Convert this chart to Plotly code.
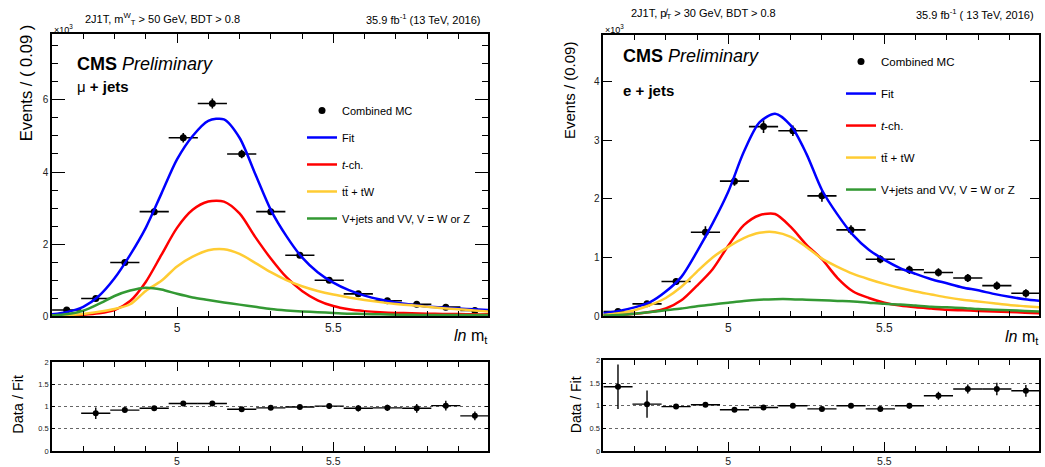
import plotly.graph_objects as go

FONT = "Liberation Sans"
W, H = 1045, 467

# ---------------- data ----------------
bin_centers = [4.647, 4.740, 4.833, 4.927, 5.020, 5.113, 5.207, 5.300,
               5.393, 5.487, 5.580, 5.673, 5.767, 5.860, 5.953]
bin_half_width = [0.0467] * 15

curve_x = [4.60, 4.65, 4.70, 4.75, 4.80, 4.85, 4.90, 4.95, 5.00, 5.05,
           5.10, 5.15, 5.20, 5.25, 5.30, 5.35, 5.40, 5.45, 5.50, 5.55,
           5.60, 5.65, 5.70, 5.75, 5.80, 5.85, 5.90, 5.95, 6.00]

# mu + jets (values in units of 10^3 events)
mu_data = [0.17, 0.49, 1.49, 2.90, 4.95, 5.90, 4.50, 2.90, 1.69, 0.995,
           0.62, 0.43, 0.33, 0.25, 0.16]
mu_err = [0.04, 0.05, 0.08, 0.10, 0.13, 0.14, 0.12, 0.09, 0.07, 0.05,
          0.04, 0.03, 0.03, 0.03, 0.03]
mu_fit = [0.05, 0.12, 0.26, 0.56, 1.05, 1.70, 2.45, 3.40, 4.35, 5.00,
          5.42, 5.46, 4.95, 3.95, 2.95, 2.22, 1.63, 1.22, 0.93, 0.72,
          0.57, 0.46, 0.38, 0.32, 0.27, 0.24, 0.21, 0.19, 0.17]
mu_tch = [0.01, 0.02, 0.04, 0.08, 0.17, 0.42, 0.95, 1.70, 2.45, 2.95,
          3.18, 3.18, 2.85, 2.20, 1.60, 1.08, 0.70, 0.44, 0.28, 0.19,
          0.14, 0.11, 0.09, 0.08, 0.07, 0.06, 0.06, 0.05, 0.05]
mu_tt = [0.01, 0.03, 0.06, 0.12, 0.20, 0.33, 0.70, 0.98, 1.38, 1.65,
         1.83, 1.86, 1.73, 1.48, 1.22, 1.00, 0.83, 0.70, 0.60, 0.52,
         0.45, 0.39, 0.34, 0.30, 0.26, 0.22, 0.19, 0.16, 0.13]
mu_vjets = [0.02, 0.06, 0.15, 0.34, 0.56, 0.71, 0.79, 0.74, 0.62, 0.52,
            0.45, 0.38, 0.32, 0.26, 0.20, 0.16, 0.13, 0.11, 0.09, 0.07,
            0.06, 0.05, 0.04, 0.04, 0.03, 0.03, 0.03, 0.03, 0.03]
mu_ratio = [None, 0.85, 0.92, 0.96, 1.07, 1.07, 0.94, 0.97, 0.99, 1.01,
            0.96, 0.97, 0.96, 1.02, 0.79]
mu_ratio_err = [None, 0.13, 0.05, 0.03, 0.02, 0.02, 0.02, 0.02, 0.03, 0.06,
                0.07, 0.07, 0.10, 0.11, 0.10]

# e + jets
e_data = [0.08, 0.21, 0.59, 1.43, 2.30, 3.23, 3.16, 2.05, 1.47, 0.97,
          0.79, 0.745, 0.65, 0.52, 0.39]
e_err = [0.04, 0.05, 0.06, 0.10, 0.08, 0.11, 0.09, 0.10, 0.08, 0.07,
         0.07, 0.07, 0.07, 0.07, 0.07]
e_fit = [0.05, 0.09, 0.15, 0.24, 0.42, 0.67, 1.10, 1.58, 2.12, 2.80,
         3.30, 3.45, 3.25, 2.77, 2.15, 1.73, 1.38, 1.13, 0.96, 0.82,
         0.72, 0.63, 0.56, 0.49, 0.44, 0.38, 0.33, 0.29, 0.26]
e_tch = [0.01, 0.02, 0.04, 0.07, 0.13, 0.27, 0.52, 0.80, 1.20, 1.55,
         1.72, 1.74, 1.52, 1.22, 0.97, 0.65, 0.42, 0.31, 0.23, 0.18,
         0.15, 0.13, 0.11, 0.10, 0.09, 0.08, 0.07, 0.06, 0.05]
e_tt = [0.02, 0.05, 0.10, 0.19, 0.31, 0.50, 0.76, 1.00, 1.18, 1.33,
        1.42, 1.43, 1.35, 1.18, 0.98, 0.84, 0.72, 0.63, 0.55, 0.48,
        0.42, 0.37, 0.32, 0.28, 0.25, 0.22, 0.19, 0.17, 0.15]
e_vjets = [0.01, 0.02, 0.04, 0.07, 0.10, 0.13, 0.17, 0.20, 0.23, 0.26,
           0.28, 0.29, 0.29, 0.28, 0.27, 0.26, 0.25, 0.23, 0.21, 0.20,
           0.18, 0.16, 0.15, 0.14, 0.12, 0.11, 0.10, 0.09, 0.08]
e_ratio = [1.42, 1.035, 0.98, 1.02, 0.91, 0.96, 1.00, 0.93, 1.00, 0.93,
           1.00, 1.22, 1.37, 1.37, 1.33]
e_ratio_err = [0.49, 0.30, 0.05, 0.05, 0.03, 0.03, 0.03, 0.03, 0.03, 0.05,
               0.06, 0.09, 0.10, 0.14, 0.13]

curve_names = ["Fit", "<i>t</i>-ch.", "tt\u0304 + tW", "V+jets and VV, V = W or Z"]
curve_colors = ["#0000ff", "#ff0000", "#ffcc33", "#339933"]

# ---------------- figure ----------------
fig = go.Figure()


def px(v):
    return v / W


def py(v):
    return 1 - v / H


def add_panel(xa, ya, xr, yr, data, err, curves, ratio, rerr, legend):
    fig.add_trace(go.Scatter(
        x=bin_centers, y=data, mode="markers", name="Combined MC",
        xaxis=xa, yaxis=ya, legend=legend, legendgroup=legend + "d",
        marker=dict(color="black", size=7),
        error_x=dict(type="data", array=bin_half_width, width=0,
                     color="black", thickness=1.6),
        error_y=dict(type="data", array=err, width=0, color="black",
                     thickness=1.6)))
    for name, col, yv in zip(curve_names, curve_colors, curves):
        fig.add_trace(go.Scatter(
            x=curve_x, y=yv, mode="lines", name=name, xaxis=xa, yaxis=ya,
            legend=legend, legendgroup=legend + name,
            line=dict(color=col, width=2.5, shape="spline", smoothing=0.8)))
    fig.add_trace(go.Scatter(
        x=bin_centers, y=ratio, mode="markers", showlegend=False,
        xaxis=xr, yaxis=yr, marker=dict(color="black", size=6),
        error_x=dict(type="data", array=bin_half_width, width=0,
                     color="black", thickness=1.4),
        error_y=dict(type="data", array=rerr, width=0, color="black",
                     thickness=1.4)))


add_panel("x", "y", "x2", "y2", mu_data, mu_err,
          [mu_fit, mu_tch, mu_tt, mu_vjets], mu_ratio, mu_ratio_err, "legend")
add_panel("x3", "y3", "x4", "y4", e_data, e_err,
          [e_fit, e_tch, e_tt, e_vjets], e_ratio, e_ratio_err, "legend2")

minor_x = [4.7, 4.8, 4.9, 5.1, 5.2, 5.3, 5.4, 5.6, 5.7, 5.8, 5.9]


def xaxis(dom, anchor, size):
    return dict(domain=dom, anchor=anchor, range=[4.6, 5.995],
                showline=True, linecolor="black", linewidth=1.5,
                mirror="ticks", ticks="inside", ticklen=9, tickwidth=1.2,
                tickcolor="black", tickmode="array", tickvals=[5, 5.5],
                ticktext=["5", "5.5"], showgrid=False, zeroline=False,
                tickfont=dict(size=size, color="#222"),
                minor=dict(tickmode="array", tickvals=minor_x, ticklen=5,
                           ticks="inside", tickcolor="black", tickwidth=1))


left_dom = [px(52), px(488)]
right_dom = [px(603.3), px(1039)]
main_y = [py(319), py(31)]

fig.update_layout(
    width=W, height=H, margin=dict(l=0, r=0, t=0, b=0),
    paper_bgcolor="white", plot_bgcolor="white",
    font=dict(family=FONT, color="black"),
    xaxis=xaxis(left_dom, "y", 12),
    xaxis2=xaxis(left_dom, "y2", 10.5),
    xaxis3=xaxis(right_dom, "y3", 12),
    xaxis4=xaxis(right_dom, "y4", 10.5),
    yaxis=dict(domain=main_y, anchor="x", range=[0, 7.82],
               showline=True, linecolor="black", linewidth=1.5,
               mirror="ticks", ticks="inside", ticklen=13, tickwidth=1.2,
               tickcolor="black", tickmode="array", tickvals=[0, 2, 4, 6],
               showgrid=False, zeroline=False,
               tickfont=dict(size=10, color="#222"),
               minor=dict(dtick=0.5, tick0=0, ticklen=6, ticks="inside",
                          tickcolor="black", tickwidth=1)),
    yaxis3=dict(domain=[py(319), py(31.7)], anchor="x3", range=[0, 4.79],
                showline=True, linecolor="black", linewidth=1.5,
                mirror="ticks", ticks="inside", ticklen=9, tickwidth=1.2,
                tickcolor="black", tickmode="array", tickvals=[0, 1, 2, 3, 4],
                showgrid=False, zeroline=False,
                tickfont=dict(size=10, color="#222")),
    yaxis2=dict(domain=[py(456.7), py(366)], anchor="x2", range=[0, 2],
                showline=True, linecolor="black", linewidth=1.5,
                mirror="ticks", ticks="inside", ticklen=3, tickcolor="black",
                tickmode="array", tickvals=[0, 0.5, 1, 1.5, 2],
                showgrid=True, gridcolor="#666", griddash="dot", gridwidth=1,
                zeroline=False, tickfont=dict(size=7.5, color="#222")),
    yaxis4=dict(domain=[py(456.7), py(364.3)], anchor="x4", range=[0, 2],
                showline=True, linecolor="black", linewidth=1.5,
                mirror="ticks", ticks="inside", ticklen=3, tickcolor="black",
                tickmode="array", tickvals=[0, 0.5, 1, 1.5, 2],
                showgrid=True, gridcolor="#666", griddash="dot", gridwidth=1,
                zeroline=False, tickfont=dict(size=7.5, color="#222")),
    legend=dict(x=px(302), y=py(94), xanchor="left", yanchor="top",
                bgcolor="rgba(0,0,0,0)", font=dict(size=11),
                tracegroupgap=8, itemwidth=30),
    legend2=dict(x=px(841), y=py(44), xanchor="left", yanchor="top",
                 bgcolor="rgba(0,0,0,0)", font=dict(size=11.5),
                 tracegroupgap=13, itemwidth=30),
)

ann = []


def text(x, y, s, size, xanchor="center", angle=0, color="black"):
    ann.append(dict(x=px(x), y=py(y), xref="paper", yref="paper", text=s,
                    showarrow=False, xanchor=xanchor, yanchor="middle",
                    textangle=angle, font=dict(size=size, color=color)))


# left panel texts
text(162, 15, "2J1T, m<sup>W</sup><sub>T</sub> > 50 GeV, BDT > 0.8", 11)
text(483, 15, "35.9 fb<sup>-1</sup> (13 TeV, 2016)", 11, "right")
text(52, 26, "\u00d710<sup>3</sup>", 9, "left")
text(75, 61, "<b>CMS</b> <i>Preliminary</i>", 18, "left")
text(75, 84, "\u03bc <b>+ jets</b>", 15, "left")
text(26, 81, "Events / ( 0.09 )", 16.5, angle=-90)
text(18.5, 409, "Data / Fit", 14.5, angle=-90)
text(490, 340, "<i>ln</i> m<sub>t</sub>", 16, "right")

# right panel texts
text(703, 10.5, "2J1T, p\u0338<sub>T</sub> > 30 GeV, BDT > 0.8", 11)
text(1036, 10.5, "35.9 fb<sup>-1</sup> ( 13 TeV, 2016)", 11, "right")
text(603, 26, "\u00d710<sup>3</sup>", 9, "left")
text(621, 53, "<b>CMS</b> <i>Preliminary</i>", 18, "left")
text(621, 88, "<b>e + jets</b>", 15, "left")
text(569, 88, "Events / (0.09)", 15, angle=-90)
text(576, 410, "Data / Fit", 14, angle=-90)
text(1041, 341, "<i>ln</i> m<sub>t</sub>", 16, "right")

fig.update_layout(annotations=ann)

fig.write_html("out.html")
